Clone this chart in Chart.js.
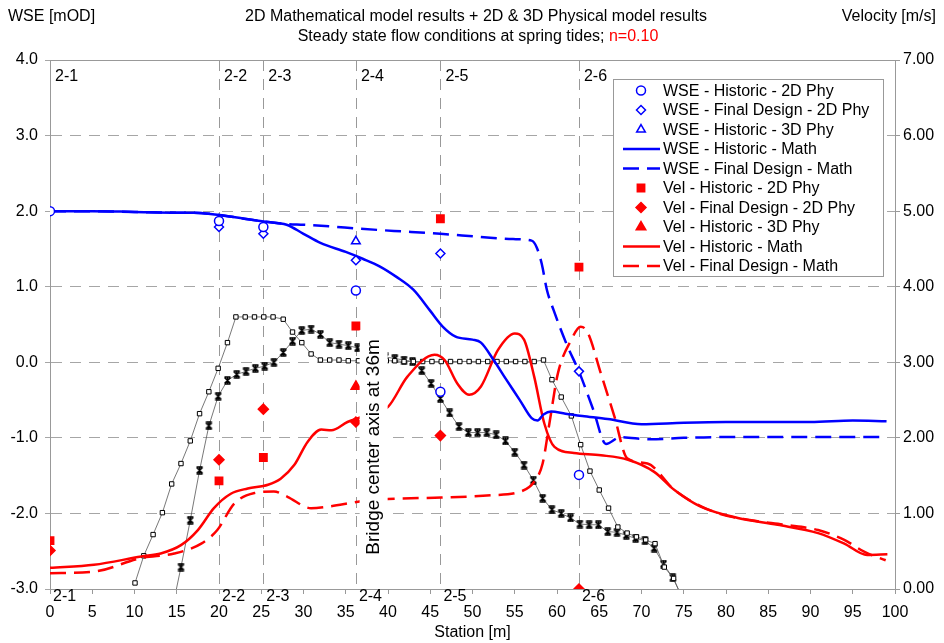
<!DOCTYPE html>
<html>
<head>
<meta charset="utf-8">
<script src="https://cdn.jsdelivr.net/npm/chart.js@4.4.0/dist/chart.umd.min.js"></script>
<style>
  body { margin: 0; background: #fff; }
  #wrap { width: 944px; height: 643px; }
</style>
</head>
<body>
<div id="wrap"><canvas id="chart" width="944" height="643"></canvas></div>
<script>
// Cross sections along the station axis
const sectionStations = [0, 20, 25.25, 36.2, 46.2, 62.6];
const sectionNames = ['2-1', '2-2', '2-3', '2-4', '2-5', '2-6'];

// Physical model measurements at the sections (null = not measured)
const wseHist2D = [2.0, 1.87, 1.79, 0.95, -0.39, -1.49];
const wseFinal2D = [null, 1.79, 1.70, 1.35, 1.44, -0.12];
const wseHist3D = [null, null, null, 1.60, null, null];
const velHist2D = [0.64, 1.43, 1.74, 3.48, 4.90, 4.26];
const velFinal2D = [0.51, 1.71, 2.38, 2.21, 2.03, 0.0];
const velHist3D = [null, null, null, 2.68, null, null];

// Mathematical model, WSE [mOD]
const wseHistMathX = [0, 5, 10, 15, 17, 20, 23, 25.5, 28, 30, 32, 35, 37, 39, 41, 43, 45, 46.5, 48, 50, 51, 52.5, 54, 55.6, 57, 57.7, 58.4, 59.3, 61, 63, 66, 70, 75, 80, 85, 90, 95, 99];
const wseHistMath = [2.0, 2.0, 1.99, 1.98, 1.98, 1.95, 1.90, 1.86, 1.82, 1.70, 1.58, 1.46, 1.37, 1.27, 1.13, 0.96, 0.68, 0.47, 0.34, 0.30, 0.26, 0.03, -0.23, -0.50, -0.74, -0.77, -0.69, -0.65, -0.68, -0.71, -0.75, -0.82, -0.80, -0.79, -0.79, -0.79, -0.77, -0.78];
const wseFinalMathX = [0, 5, 10, 15, 17, 20, 23, 25.5, 28, 30, 33, 36.4, 39, 42, 46.2, 50.9, 54.8, 57, 57.6, 58.2, 58.8, 59.6, 61.1, 62.7, 64.3, 65.8, 67.5, 71, 75, 79, 85, 90, 95, 99];
const wseFinalMath = [2.0, 2.0, 1.99, 1.98, 1.98, 1.95, 1.90, 1.86, 1.83, 1.82, 1.80, 1.77, 1.75, 1.73, 1.70, 1.66, 1.63, 1.61, 1.52, 1.30, 0.96, 0.69, 0.25, -0.15, -0.63, -1.08, -0.99, -1.02, -1.00, -0.99, -0.99, -0.99, -0.99, -0.99];

// Mathematical model, velocity [m/s]
const velHistMathX = [0, 5.2, 10.8, 13.1, 15.5, 17.5, 19.4, 21.4, 23.4, 25.8, 27.3, 28.9, 30.5, 32.1, 33.3, 35.2, 37, 40, 42.3, 45.5, 46.7, 48.2, 49.6, 51, 53, 55, 56.1, 57.3, 58.5, 59.7, 62, 65.2, 68.4, 71.5, 73.9, 77, 81.4, 86.1, 90.9, 94, 96.7, 99.1];
const velHistMath = [0.28, 0.32, 0.43, 0.47, 0.58, 0.78, 1.07, 1.26, 1.33, 1.38, 1.46, 1.64, 1.95, 2.11, 2.10, 2.21, 2.28, 2.41, 2.81, 3.10, 3.03, 2.72, 2.57, 2.68, 3.16, 3.38, 3.30, 2.81, 2.19, 1.88, 1.80, 1.77, 1.71, 1.55, 1.31, 1.09, 0.94, 0.85, 0.74, 0.60, 0.45, 0.46];
const velFinalMathX = [0, 5.2, 10.8, 14.7, 17.9, 19.8, 21.8, 24.2, 26.5, 28.1, 30.9, 32.9, 36.8, 40, 46.3, 52.2, 55.7, 57.3, 58.3, 59.1, 60.1, 61.7, 62.8, 63.6, 65.2, 66.8, 68.3, 70.7, 73.9, 78.6, 83, 86.9, 90.9, 94, 96.4, 98.9];
const velFinalMath = [0.21, 0.23, 0.41, 0.47, 0.60, 0.78, 1.13, 1.27, 1.29, 1.22, 1.07, 1.09, 1.16, 1.19, 1.21, 1.24, 1.29, 1.42, 1.66, 2.19, 2.85, 3.30, 3.47, 3.40, 2.85, 2.28, 1.73, 1.66, 1.31, 1.02, 0.91, 0.85, 0.78, 0.65, 0.49, 0.38];

// Unlabelled black profiles (left axis)
const squareX = [10.06, 11.1, 12.2, 13.3, 14.4, 15.5, 16.6, 17.7, 18.8, 19.9, 21, 22, 23.1, 24.2, 25.3, 26.4, 27.6, 28.7, 29.8, 30.9, 32, 33.1, 34.2, 35.3, 36.5, 37.6, 38.7, 39.8, 40.8, 41.9, 43, 44.1, 45.2, 46.3, 47.4, 48.5, 49.6, 50.7, 51.8, 52.9, 54, 55.1, 56.2, 57.3, 58.4, 59.4, 60.5, 61.7, 62.8, 63.9, 65, 66.1, 67.2, 68.3, 69.4, 70.5, 71.6, 72.7, 73.8, 74.9];
const squareY = [-2.92, -2.56, -2.28, -1.99, -1.61, -1.34, -1.04, -0.68, -0.39, -0.08, 0.26, 0.60, 0.60, 0.60, 0.60, 0.60, 0.57, 0.40, 0.26, 0.11, 0.03, 0.03, 0.03, 0.02, 0.02, 0.02, 0.02, 0.02, 0.02, 0.01, 0.01, 0.01, 0.01, 0.01, 0.01, 0.01, 0.01, 0.01, 0.01, 0.01, 0.01, 0.01, 0.01, 0.01, 0.03, -0.23, -0.46, -0.71, -1.09, -1.44, -1.69, -1.93, -2.18, -2.26, -2.31, -2.35, -2.40, -2.71, -2.86, -3.15];
const starX = [14.4, 15.5, 16.6, 17.7, 18.8, 19.9, 21, 22.1, 23.2, 24.3, 25.4, 26.5, 27.6, 28.7, 29.8, 30.9, 32, 33.1, 34.2, 35.3, 36.4, 37.5, 38.6, 39.7, 40.8, 41.9, 42.9, 44, 45.1, 46.2, 47.3, 48.4, 49.5, 50.6, 51.7, 52.8, 53.9, 55, 56.1, 57.2, 58.3, 59.4, 60.5, 61.6, 62.7, 63.8, 64.9, 66, 67.1, 68.2, 69.3, 70.4, 71.5, 72.6, 73.7, 74.8];
const starY = [-3.3, -2.71, -2.09, -1.43, -0.84, -0.45, -0.24, -0.16, -0.12, -0.08, -0.05, 0.0, 0.13, 0.28, 0.42, 0.44, 0.37, 0.26, 0.24, 0.22, 0.19, 0.15, 0.11, 0.07, 0.05, 0.03, 0.01, -0.11, -0.28, -0.48, -0.67, -0.85, -0.93, -0.93, -0.93, -0.96, -1.04, -1.19, -1.36, -1.56, -1.80, -1.95, -2.00, -2.06, -2.14, -2.15, -2.15, -2.24, -2.25, -2.29, -2.33, -2.36, -2.46, -2.67, -2.85, -3.1];

const blue = '#0000ff';
const red = '#ff0000';
const font = '"Liberation Sans", Arial, sans-serif';

function pts(xs, ys) {
    return xs.map((x, i) => ({ x: x, y: ys[i] })).filter(p => p.y !== null);
}

// Excel style star marker
function makeStar() {
    const c = document.createElement('canvas');
    c.width = 9;
    c.height = 9;
    const g = c.getContext('2d');
    g.strokeStyle = '#000';
    g.lineWidth = 1.5;
    g.beginPath();
    g.moveTo(1.5, 1.5); g.lineTo(7.5, 7.5);
    g.moveTo(7.5, 1.5); g.lineTo(1.5, 7.5);
    g.moveTo(1.5, 1); g.lineTo(7.5, 1);
    g.moveTo(1.5, 8); g.lineTo(7.5, 8);
    g.moveTo(4.5, 1); g.lineTo(4.5, 8);
    g.stroke();
    return c;
}

function marker(label, data, style, radius, color, filled, axis) {
    return {
        label: label, data: data, yAxisID: axis, inLegend: true,
        pointStyle: style, pointRadius: radius, pointHoverRadius: radius,
        borderColor: color, backgroundColor: filled ? color : '#fff',
        pointBorderWidth: 1.5, borderWidth: 1.5
    };
}

function curve(label, data, color, dash, axis) {
    return {
        label: label, data: data, yAxisID: axis, inLegend: true,
        showLine: true, borderColor: color, borderWidth: 2.5, borderDash: dash,
        pointRadius: 0, pointHoverRadius: 0, cubicInterpolationMode: 'monotone'
    };
}

const datasets = [
    marker('WSE - Historic - 2D Phy', pts(sectionStations, wseHist2D), 'circle', 4.5, blue, false, 'y'),
    marker('WSE - Final Design - 2D Phy', pts(sectionStations, wseFinal2D), 'rectRot', 4.5, blue, false, 'y'),
    marker('WSE - Historic - 3D Phy', pts(sectionStations, wseHist3D), 'triangle', 5, blue, false, 'y'),
    curve('WSE - Historic - Math', pts(wseHistMathX, wseHistMath), blue, [], 'y'),
    curve('WSE - Final Design - Math', pts(wseFinalMathX, wseFinalMath), blue, [16, 8], 'y'),
    marker('Vel - Historic - 2D Phy', pts(sectionStations, velHist2D), 'rect', 5.2, red, true, 'y2'),
    marker('Vel - Final Design - 2D Phy', pts(sectionStations, velFinal2D), 'rectRot', 5, red, true, 'y2'),
    marker('Vel - Historic - 3D Phy', pts(sectionStations, velHist3D), 'triangle', 5.5, red, true, 'y2'),
    curve('Vel - Historic - Math', pts(velHistMathX, velHistMath), red, [], 'y2'),
    curve('Vel - Final Design - Math', pts(velFinalMathX, velFinalMath), red, [16, 8], 'y2'),
    {
        label: 'squares', data: pts(squareX, squareY), yAxisID: 'y',
        showLine: true, borderColor: '#555', borderWidth: 0.8,
        pointStyle: 'rect', pointRadius: 3.1, pointBorderColor: '#000',
        pointBackgroundColor: '#fff', pointBorderWidth: 1
    },
    {
        label: 'stars', data: pts(starX, starY), yAxisID: 'y',
        showLine: true, borderColor: '#555', borderWidth: 0.8,
        pointStyle: makeStar(), pointRadius: 4.5
    }
];

const decorPlugin = {
    id: 'decor',
    beforeDraw(chart) {
        const ctx = chart.ctx;
        ctx.save();
        ctx.fillStyle = '#fff';
        ctx.fillRect(0, 0, chart.width, chart.height);
        ctx.restore();
    },
    beforeDatasetsDraw(chart) {
        const ctx = chart.ctx;
        const a = chart.chartArea;
        const xs = chart.scales.x;
        ctx.save();
        ctx.strokeStyle = '#999';
        ctx.lineWidth = 1;
        ctx.setLineDash([11, 8]);
        sectionStations.forEach(s => {
            if (s === 0) return;
            const px = Math.round(xs.getPixelForValue(s)) + 0.5;
            ctx.beginPath();
            ctx.moveTo(px, a.top);
            ctx.lineTo(px, a.bottom);
            ctx.stroke();
        });
        ctx.restore();
    },
    afterDatasetsDraw(chart) {
        const ctx = chart.ctx;
        const a = chart.chartArea;
        const xs = chart.scales.x;
        const ys = chart.scales.y;
        ctx.save();

        // top border
        ctx.strokeStyle = '#999';
        ctx.lineWidth = 1;
        ctx.beginPath();
        ctx.moveTo(a.left, a.top + 0.5);
        ctx.lineTo(a.right, a.top + 0.5);
        ctx.stroke();

        // bridge axis note
        const bx = xs.getPixelForValue(38.3);
        const by = ys.getPixelForValue(-1.12);
        ctx.fillStyle = '#fff';
        ctx.fillRect(bx - 14, by - 117, 28, 234);
        ctx.translate(bx, by);
        ctx.rotate(-Math.PI / 2);
        ctx.fillStyle = '#000';
        ctx.font = '19px ' + font;
        ctx.textAlign = 'center';
        ctx.textBaseline = 'middle';
        ctx.fillText('Bridge center axis at 36m', 0, 0);
        ctx.setTransform(1, 0, 0, 1, 0, 0);
        ctx.restore();

        // section labels
        ctx.save();
        ctx.fillStyle = '#000';
        ctx.font = '16px ' + font;
        ctx.textBaseline = 'middle';
        sectionStations.forEach((s, i) => {
            const px = xs.getPixelForValue(s);
            ctx.fillText(sectionNames[i], px + 5, a.top + 17);
            ctx.fillText(sectionNames[i], px + 3, a.bottom + 8);
        });

        // titles
        ctx.textAlign = 'center';
        ctx.fillText('2D Mathematical model results + 2D & 3D Physical model results', 476, 17);
        const p1 = 'Steady state flow conditions at spring tides; ';
        const p2 = 'n=0.10';
        const w1 = ctx.measureText(p1).width;
        const w2 = ctx.measureText(p2).width;
        const sx = 478 - (w1 + w2) / 2;
        ctx.textAlign = 'left';
        ctx.fillText(p1, sx, 37);
        ctx.fillStyle = red;
        ctx.fillText(p2, sx + w1, 37);
        ctx.fillStyle = '#000';
        ctx.fillText('WSE [mOD]', 8, 17);
        ctx.textAlign = 'right';
        ctx.fillText('Velocity [m/s]', 936, 17);

        // legend box
        const lx = 613.5, ly = 79.5, lw = 270, lh = 197;
        ctx.fillStyle = '#fff';
        ctx.fillRect(lx, ly, lw, lh);
        ctx.strokeStyle = '#999';
        ctx.lineWidth = 1;
        ctx.strokeRect(lx, ly, lw, lh);
        ctx.textAlign = 'left';
        chart.data.datasets.filter(d => d.inLegend).forEach((d, i) => {
            const y = 90.5 + i * 19.5;
            if (d.showLine) {
                ctx.strokeStyle = d.borderColor;
                ctx.lineWidth = d.borderWidth;
                ctx.setLineDash(d.borderDash);
                ctx.beginPath();
                ctx.moveTo(623, y);
                ctx.lineTo(660, y);
                ctx.stroke();
                ctx.setLineDash([]);
            } else {
                ctx.fillStyle = d.backgroundColor;
                ctx.strokeStyle = d.borderColor;
                ctx.lineWidth = d.pointBorderWidth;
                Chart.helpers.drawPoint(ctx, {
                    pointStyle: d.pointStyle, radius: d.pointRadius,
                    borderWidth: d.pointBorderWidth, rotation: 0
                }, 641, y);
            }
            ctx.fillStyle = '#000';
            ctx.fillText(d.label, 663, y + 1);
        });
        ctx.restore();
    }
};

new Chart(document.getElementById('chart'), {
    type: 'scatter',
    data: { datasets: datasets },
    options: {
        responsive: false,
        animation: false,
        events: [],
        layout: { padding: { top: 60, left: 0, right: 0, bottom: 0 } },
        plugins: { legend: { display: false }, tooltip: { enabled: false } },
        scales: {
            x: {
                type: 'linear', min: 0, max: 100,
                afterFit: s => { s.height = 54; },
                ticks: { stepSize: 5, padding: 9, color: '#000', font: { family: font, size: 16 } },
                grid: { drawOnChartArea: false, tickLength: 5, color: '#999' },
                border: { color: '#999' },
                title: {
                    display: true, text: 'Station [m]', color: '#000',
                    font: { family: font, size: 16 }, padding: { top: 0, bottom: 1 }
                }
            },
            y: {
                position: 'left', min: -3, max: 4,
                afterFit: s => { s.width = 50; },
                ticks: {
                    stepSize: 1, padding: 7, color: '#000', font: { family: font, size: 16 },
                    callback: v => v.toFixed(1)
                },
                grid: { color: '#a6a6a6', tickLength: 5 },
                border: { color: '#999', dash: [11, 8] }
            },
            y2: {
                position: 'right', min: 0, max: 7,
                afterFit: s => { s.width = 49; },
                ticks: {
                    stepSize: 1, padding: 3, color: '#000', font: { family: font, size: 16 },
                    callback: v => v.toFixed(2)
                },
                grid: { drawOnChartArea: false, tickLength: 5, color: '#999' },
                border: { color: '#999' }
            }
        }
    },
    plugins: [decorPlugin]
});
</script>
</body>
</html>
